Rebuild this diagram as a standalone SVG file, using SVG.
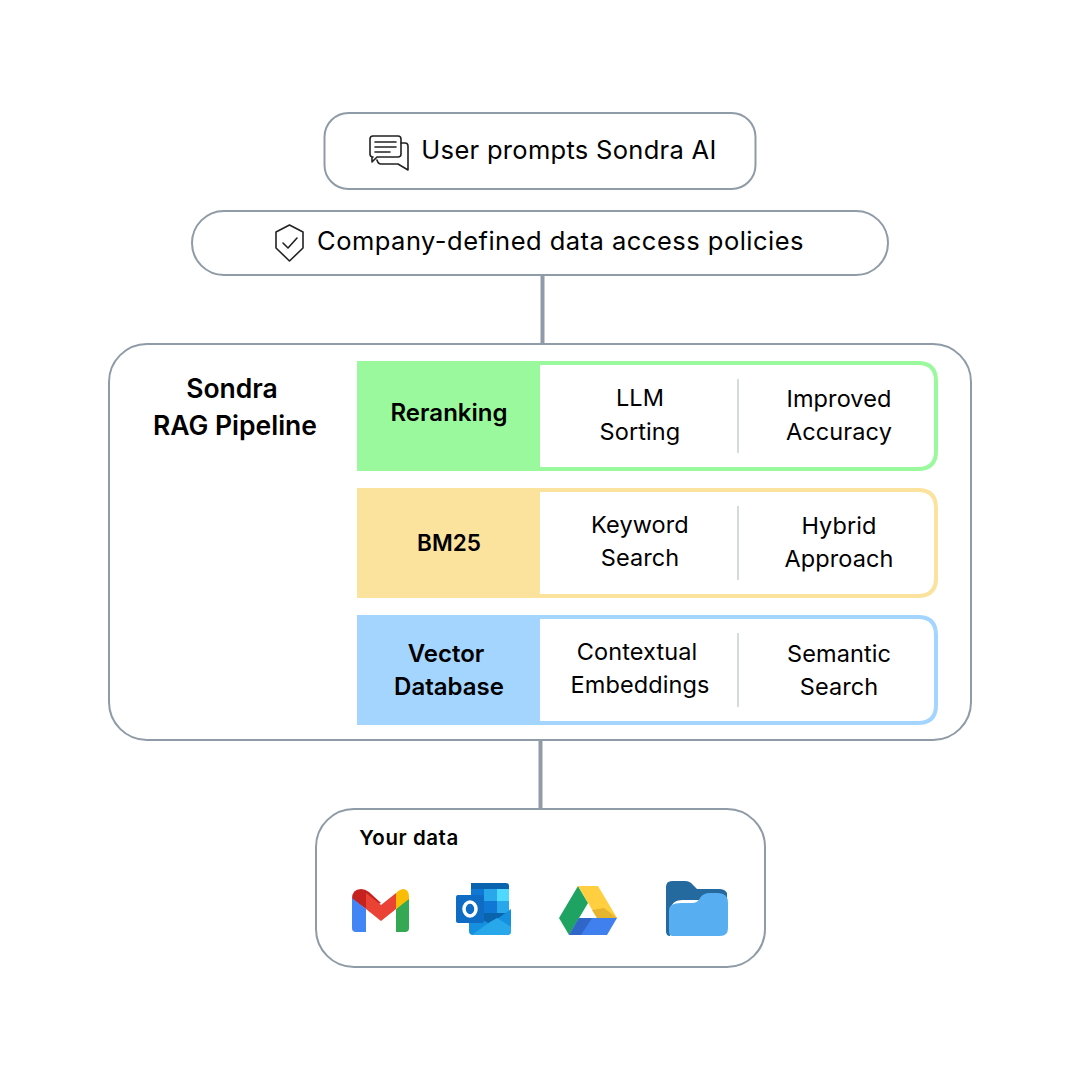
<svg xmlns="http://www.w3.org/2000/svg" width="1080" height="1080" viewBox="0 0 1080 1080">
<style>
text{font-family:"Inter","Noto Sans",sans-serif;fill:#000;text-anchor:middle}
.n{font-size:23.500px;letter-spacing:.1px;font-weight:400}
.t{font-size:25.500px;font-weight:400}
.b{font-size:24px;font-weight:600}
.box{fill:#fff;stroke:#8f9ba6;stroke-width:2}
.div{stroke:#d5dade;stroke-width:2}
.ln{stroke:#8f9ba6;stroke-width:4;fill:none}
.ic{fill:none;stroke:#222;stroke-width:1.600;stroke-linejoin:round;stroke-linecap:round}
</style>
<rect width="1080" height="1080" fill="#fff"/>
<g id="connectors">
<line class="ln" x1="542.500" y1="275" x2="542.500" y2="344"/>
<line class="ln" x1="540.500" y1="740" x2="540.500" y2="809"/>
</g>
<g id="prompt">
<rect class="box" x="324.500" y="113" width="431" height="76" rx="24"/>
<path class="ic" d="M373 136H398Q401 136 401 139V154Q401 157 398 157H377L372 162V157H373Q370 157 370 154V139Q370 136 373 136Z"/>
<path class="ic" d="M401 143H405Q408 143 408 146V170L398 164H381Q378 164 377 160"/>
<path class="ic" d="M375 142H396M375 147H396M375 152H390"/>
<text class="t" x="569" y="159" style="letter-spacing:.3px">User prompts Sondra AI</text>
</g>
<g id="policies">
<rect class="box" x="192" y="211" width="696" height="64" rx="32"/>
<path class="ic" d="M289.500 225L303 232V248L289.500 261L276 248V232Z"/>
<path class="ic" d="M283 243L288 248L297 238"/>
<text class="t" x="560.500" y="250" style="letter-spacing:.48px">Company-defined data access policies</text>
</g>
<g id="pipeline">
<rect class="box" x="109" y="344" width="862" height="396" rx="38"/>
<text class="b" x="232" y="398" style="font-size:26.500px">Sondra</text>
<text class="b" x="235" y="435" style="font-size:26.500px">RAG Pipeline</text>
</g>
<g id="reranking">
<path d="M357 361H918Q938 361 938 381V451Q938 471 918 471H357Z" fill="#9bf99d"/>
<path d="M540 365H918Q934 365 934 381V451Q934 467 918 467H540Z" fill="#fff"/>
<text class="b" x="449" y="421">Reranking</text>
<text class="n" x="640" y="406">LLM</text>
<text class="n" x="640" y="440">Sorting</text>
<line class="div" x1="738" y1="379" x2="738" y2="453"/>
<text class="n" x="839" y="407">Improved</text>
<text class="n" x="839" y="440">Accuracy</text>
</g>
<g id="bm25">
<path d="M357 488H918Q938 488 938 508V578Q938 598 918 598H357Z" fill="#fbe29d"/>
<path d="M540 492H918Q934 492 934 508V578Q934 594 918 594H540Z" fill="#fff"/>
<text class="b" x="449" y="551" style="font-size:22.500px">BM25</text>
<text class="n" x="640" y="533">Keyword</text>
<text class="n" x="640" y="566">Search</text>
<line class="div" x1="738" y1="506" x2="738" y2="580"/>
<text class="n" x="839" y="534">Hybrid</text>
<text class="n" x="839" y="567">Approach</text>
</g>
<g id="vector">
<path d="M357 615H918Q938 615 938 635V705Q938 725 918 725H357Z" fill="#a3d5ff"/>
<path d="M540 619H918Q934 619 934 635V705Q934 721 918 721H540Z" fill="#fff"/>
<text class="b" x="446" y="662">Vector</text>
<text class="b" x="449" y="695">Database</text>
<text class="n" x="637" y="660">Contextual</text>
<text class="n" x="640" y="693">Embeddings</text>
<line class="div" x1="738" y1="633" x2="738" y2="707"/>
<text class="n" x="839" y="662">Semantic</text>
<text class="n" x="839" y="695">Search</text>
</g>
<g id="data">
<rect class="box" x="316" y="809" width="449" height="158" rx="38"/>
<text class="b" x="409" y="845" style="font-size:20.500px;letter-spacing:.55px">Your data</text>
</g>
<g id="gmail">
<path d="M352 899Q352 889 361 889Q365 889 369 892L381 903L366 909L352 899Z" fill="#c5221f"/>
<path d="M352 898L366 909V932H356Q352 932 352 928Z" fill="#4285f4"/>
<path d="M396 909L409 898V928Q409 932 405 932H396Z" fill="#34a853"/>
<path d="M396 893Q400 889 404 889Q409 890 409 897V899L396 909Z" fill="#fbbc04"/>
<path d="M366 893L381 905L396 893V909L381 921L366 909Z" fill="#ea4335"/>
</g>
<g id="outlook">
<path d="M471 883H506Q509 883 509 886V926H471Z" fill="#0a64ad"/>
<rect x="471" y="889" width="13" height="12" fill="#0f78d4"/>
<rect x="484" y="889" width="13" height="12" fill="#28a8ea"/>
<rect x="497" y="889" width="12" height="12" fill="#50d9ff"/>
<rect x="471" y="901" width="13" height="12" fill="#0a64ad"/>
<rect x="484" y="901" width="13" height="12" fill="#0f78d4"/>
<rect x="497" y="901" width="12" height="12" fill="#28a8ea"/>
<path d="M469 912L490 924L511 909V931Q511 935 507 935H473Q469 935 469 931Z" fill="#1490df"/>
<path d="M472 935L490 922L497 918L511 927V931Q511 935 507 935Z" fill="#28a8ea"/>
<rect x="456" y="895" width="28" height="28" rx="2" fill="#0f6cc4"/>
<ellipse cx="470" cy="909" rx="6" ry="7" fill="none" stroke="#fff" stroke-width="3.500"/>
</g>
<g id="drive">
<path d="M578 886L559 918L569 935L588 903Z" fill="#1ea362"/>
<path d="M578 886H598L617 918H597Z" fill="#ffcf3f"/>
<path d="M597 918H617L604 908L592 910Z" fill="#e6b52f"/>
<path d="M569 935H607L617 918H579Z" fill="#3f7fee"/>
<path d="M569 935L579 918H592L581 935Z" fill="#2f66c8"/>
</g>
<g id="folder">
<path d="M666 887Q666 881 672 881H685Q690 881 693 885L697 889H719Q725 889 727 893V900H683Q670 900 670 913V936Q666 936 666 931Z" fill="#246a9f"/>
<path d="M669 910Q669 903 681 903H692Q698 903 700 898Q703 893 710 893H718Q728 893 728 903V928Q728 936 720 936H673Q669 936 669 932Z" fill="#57aef0"/>
</g>
</svg>
